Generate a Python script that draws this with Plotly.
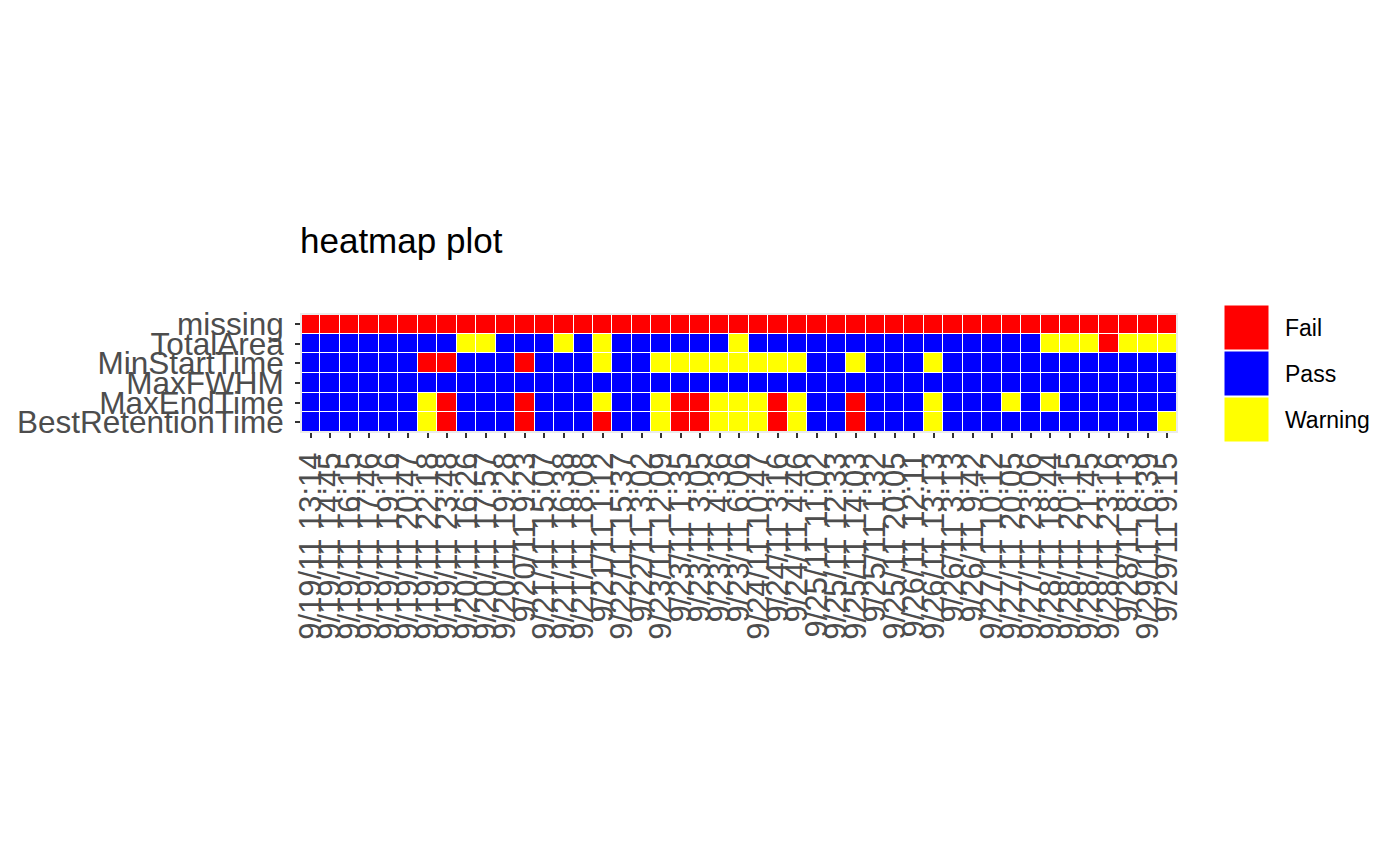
import plotly.graph_objects as go

# ---- data ----
metrics = ["BestRetentionTime", "MaxEndTime", "MaxFWHM", "MinStartTime", "TotalArea", "missing"]

run_times = [
    "9/19/11 13:14", "9/19/11 14:45", "9/19/11 16:15", "9/19/11 17:46", "9/19/11 19:16",
    "9/19/11 20:47", "9/19/11 22:18", "9/19/11 23:48", "9/20/11 16:26", "9/20/11 17:57",
    "9/20/11 19:28", "9/20/11 9:23", "9/21/11 15:07", "9/21/11 16:38", "9/21/11 18:08",
    "9/21/11 1:12", "9/22/11 15:37", "9/22/11 3:02", "9/23/11 12:09", "9/23/11 1:35",
    "9/23/11 3:05", "9/23/11 4:36", "9/23/11 6:06", "9/24/11 10:47", "9/24/11 3:16",
    "9/24/11 4:46", "9/25/11 11:02", "9/25/11 12:33", "9/25/11 14:03", "9/25/11 1:32",
    "9/25/11 20:05", "9/26/11 12:11", "9/26/11 13:13", "9/26/11 3:13", "9/26/11 9:42",
    "9/27/11 10:12", "9/27/11 20:05", "9/27/11 23:06", "9/28/11 18:44", "9/28/11 20:15",
    "9/28/11 21:45", "9/28/11 23:16", "9/28/11 8:13", "9/29/11 16:39", "9/29/11 9:15",
]

status_names = {"F": "Fail", "P": "Pass", "W": "Warning"}
status_colors = {"Fail": "#FF0000", "Pass": "#0000FF", "Warning": "#FFFF00"}

missing = ["F"] * 45
total_area = ["P", "P", "P", "P", "P", "P", "P", "P", "W", "W",
              "P", "P", "P", "W", "P", "W", "P", "P", "P", "P",
              "P", "P", "W", "P", "P", "P", "P", "P", "P", "P",
              "P", "P", "P", "P", "P", "P", "P", "P", "W", "W",
              "W", "F", "W", "W", "W"]
min_start_time = ["P", "P", "P", "P", "P", "P", "F", "F", "P", "P",
                  "P", "F", "P", "P", "P", "W", "P", "P", "W", "W",
                  "W", "W", "W", "W", "W", "W", "P", "P", "W", "P",
                  "P", "P", "W", "P", "P", "P", "P", "P", "P", "P",
                  "P", "P", "P", "P", "P"]
max_fwhm = ["P"] * 45
max_end_time = ["P", "P", "P", "P", "P", "P", "W", "F", "P", "P",
                "P", "F", "P", "P", "P", "W", "P", "P", "W", "F",
                "F", "W", "W", "W", "F", "W", "P", "P", "F", "P",
                "P", "P", "W", "P", "P", "P", "W", "P", "W", "P",
                "P", "P", "P", "P", "P"]
best_retention_time = ["P", "P", "P", "P", "P", "P", "W", "F", "P", "P",
                       "P", "F", "P", "P", "P", "F", "P", "P", "W", "F",
                       "F", "W", "W", "W", "F", "W", "P", "P", "F", "P",
                       "P", "P", "W", "P", "P", "P", "P", "P", "P", "P",
                       "P", "P", "P", "P", "W"]

rows = [best_retention_time, max_end_time, max_fwhm, min_start_time, total_area, missing]
legend_order = ["Fail", "Pass", "Warning"]

# ---- build ----
code_num = {"Fail": 0, "Pass": 1, "Warning": 2}
z = [[code_num[status_names[c]] for c in r] for r in rows]
text = [[status_names[c] for c in r] for r in rows]
xs = list(range(len(run_times)))
ys = list(range(len(metrics)))

cs = [[0, status_colors["Fail"]], [1/3, status_colors["Fail"]],
      [1/3, status_colors["Pass"]], [2/3, status_colors["Pass"]],
      [2/3, status_colors["Warning"]], [1, status_colors["Warning"]]]

fig = go.Figure(go.Heatmap(
    z=z, x=xs, y=ys, text=text, zmin=-0.5, zmax=2.5, colorscale=cs,
    showscale=False, xgap=1, ygap=1, hoverinfo="text",
))

FONT = "Arial, Liberation Sans, sans-serif"
OFF = 8  # page body margin
W, H = 1400 - 2 * OFF, 866 - 2 * OFF
# plot area in screen pixels
SL, SR, ST, SB = 301, 1177, 314, 432
L, R, T, B = SL - OFF, SR - OFF, ST - OFF, SB - OFF

fig.update_layout(
    width=W, height=H, autosize=False,
    margin=dict(l=L, r=W - R, t=T, b=H - B, pad=0, autoexpand=False),
    paper_bgcolor="white", plot_bgcolor="white",
    font=dict(family=FONT, color="#4D4D4D"),
    showlegend=False,
)
fig.update_xaxes(
    range=[-0.5, len(xs) - 0.5], tickmode="array", tickvals=xs, ticktext=run_times,
    tickangle=-90, ticks="outside", ticklen=5, tickwidth=1.5, tickcolor="#333333",
    tickfont=dict(size=31, color="#4D4D4D", family=FONT), automargin=False,
    showgrid=False, zeroline=False, showline=False, ticklabelstandoff=2,
)
fig.update_yaxes(
    range=[-0.5, len(ys) - 0.5], tickmode="array", tickvals=ys, ticktext=metrics,
    ticks="outside", ticklen=5, tickwidth=1.5, tickcolor="#333333",
    tickfont=dict(size=31.5, color="#4D4D4D", family=FONT), automargin=False,
    showgrid=False, zeroline=False, showline=False, ticklabelstandoff=5,
)

def px_x(p):
    # screen pixel -> paper fraction
    return (p - SL) / (SR - SL)

def px_y(p):
    return (SB - p) / (SB - ST)

shapes = [dict(type="rect", xref="paper", yref="paper", x0=0, x1=1, y0=0, y1=1,
               line=dict(color="#EBEBEB", width=2), fillcolor="rgba(0,0,0,0)", layer="above")]
annotations = [dict(text="heatmap plot", xref="paper", yref="paper", x=px_x(298), y=px_y(240),
                    xanchor="left", yanchor="middle", showarrow=False,
                    font=dict(size=35, color="black", family=FONT))]
sw_top, sw_h = 305, 46
for i, name in enumerate(legend_order):
    y0 = sw_top + i * sw_h
    shapes.append(dict(type="rect", xref="paper", yref="paper",
                       x0=px_x(1224), x1=px_x(1269), y0=px_y(y0 + sw_h - 1), y1=px_y(y0),
                       fillcolor=status_colors[name], line=dict(width=1, color="white")))
    annotations.append(dict(text=name, xref="paper", yref="paper", x=px_x(1283),
                            y=px_y(y0 + sw_h / 2), xanchor="left", yanchor="middle",
                            showarrow=False, font=dict(size=23, color="black", family=FONT)))
fig.update_layout(shapes=shapes, annotations=annotations)

fig.write_html("out.html")
